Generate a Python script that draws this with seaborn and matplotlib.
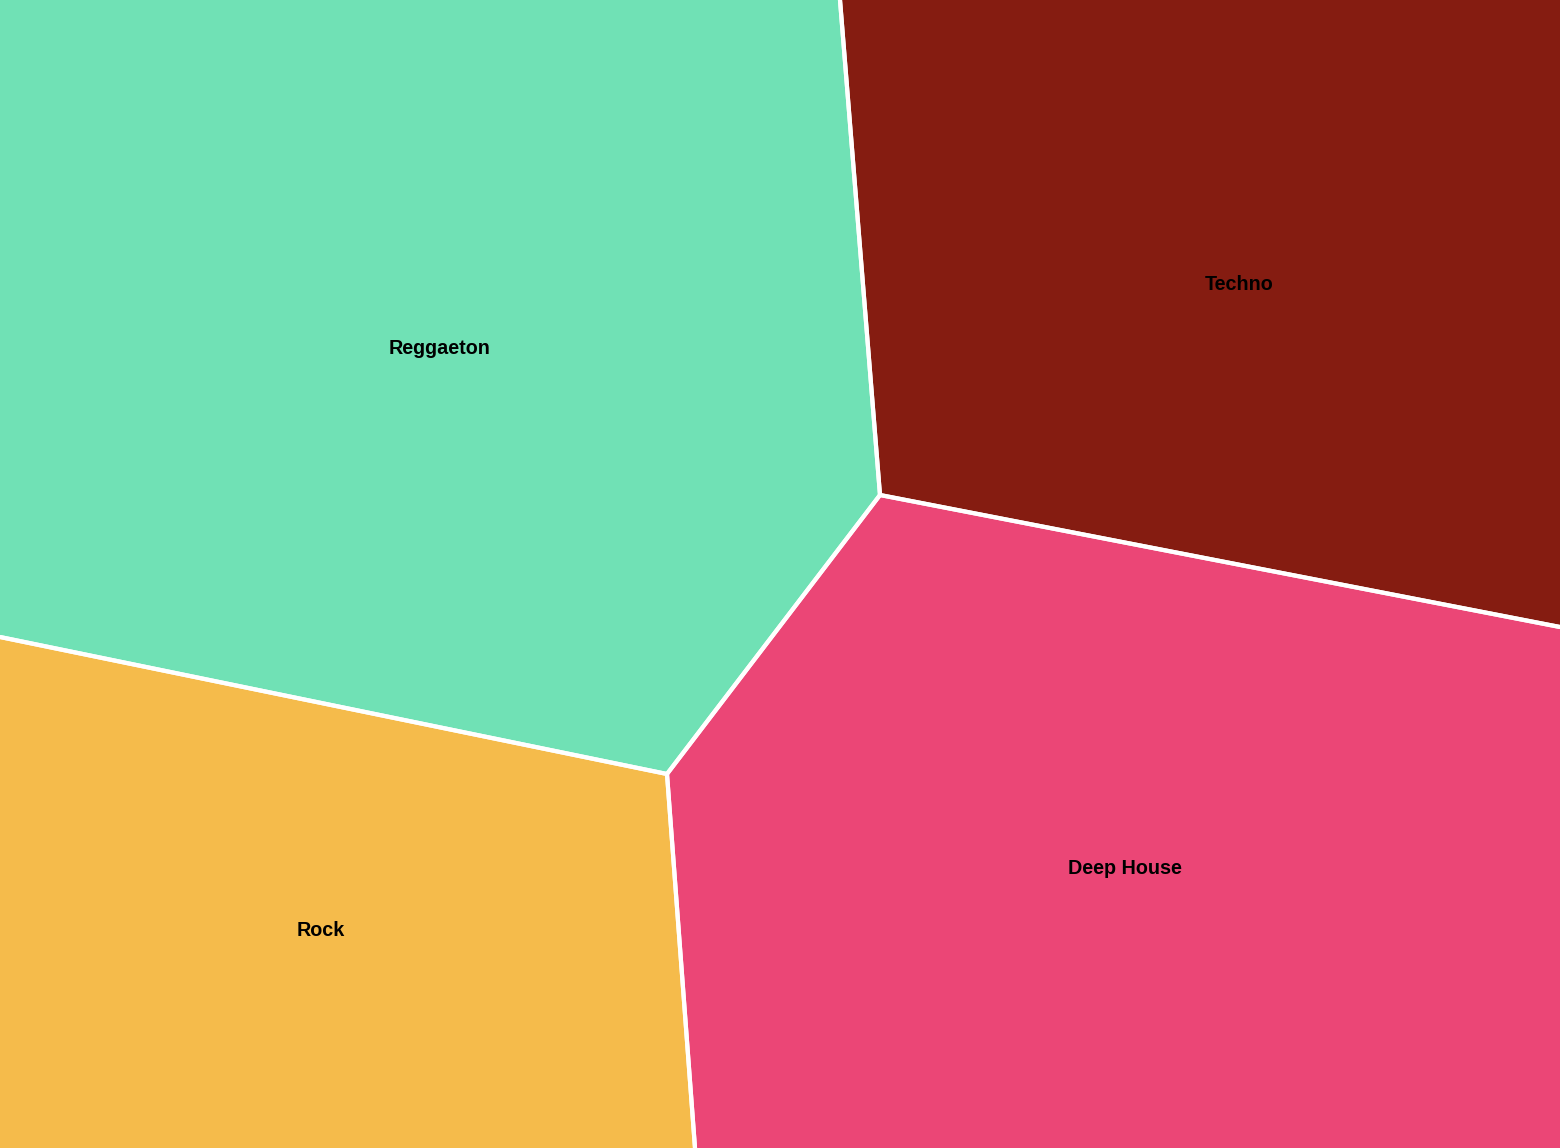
import matplotlib
matplotlib.use("Agg")
import matplotlib.pyplot as plt
import seaborn as sns

# Genres and cell colours
genres = ["Reggaeton", "Techno", "Deep House", "Rock"]
colors = ["#70E1B5", "#851C11", "#EB4676", "#F5BB4B"]

# Cell outlines (pixel space, y downwards)
reggaeton_x = [0, 840, 880, 667, 0]
reggaeton_y = [0, 0, 495, 774, 637]
techno_x = [840, 1560, 1560, 880]
techno_y = [0, 0, 627, 495]
deephouse_x = [880, 1560, 1560, 695, 667]
deephouse_y = [495, 627, 1148, 1148, 774]
rock_x = [0, 667, 695, 0]
rock_y = [637, 774, 1148, 1148]

# Label anchors
label_x = [440, 1239, 1125, 321]
label_y = [349, 285, 869, 931]

W, H = 1560, 1148
cells_x = [reggaeton_x, techno_x, deephouse_x, rock_x]
cells_y = [reggaeton_y, techno_y, deephouse_y, rock_y]


def on_frame(x0, y0, x1, y1):
    # both ends on the same outer side -> no white border there
    return ((x0 == x1 and x0 in (0, W)) or (y0 == y1 and y0 in (0, H)))


sns.set_theme(style="white")
plt.rcParams["font.family"] = ["Liberation Sans", "DejaVu Sans"]

fig = plt.figure(figsize=(15.6, 11.48), dpi=100)
ax = fig.add_axes([0, 0, 1, 1])

for name, col, xs, ys, lx, ly in zip(genres, colors, cells_x, cells_y, label_x, label_y):
    ax.fill(xs, ys, facecolor=col, edgecolor="none")
    n = len(xs)
    for i in range(n):
        x0, y0 = xs[i], ys[i]
        x1, y1 = xs[(i + 1) % n], ys[(i + 1) % n]
        if not on_frame(x0, y0, x1, y1):
            ax.plot([x0, x1], [y0, y1], color="white", linewidth=3,
                    solid_capstyle="round")
    ax.text(lx, ly, name, ha="center", va="center", fontsize=14.2,
            fontweight="bold", color="black")

ax.set_xlim(0, W)
ax.set_ylim(H, 0)
ax.axis("off")

fig.savefig("out.png", dpi=100)
